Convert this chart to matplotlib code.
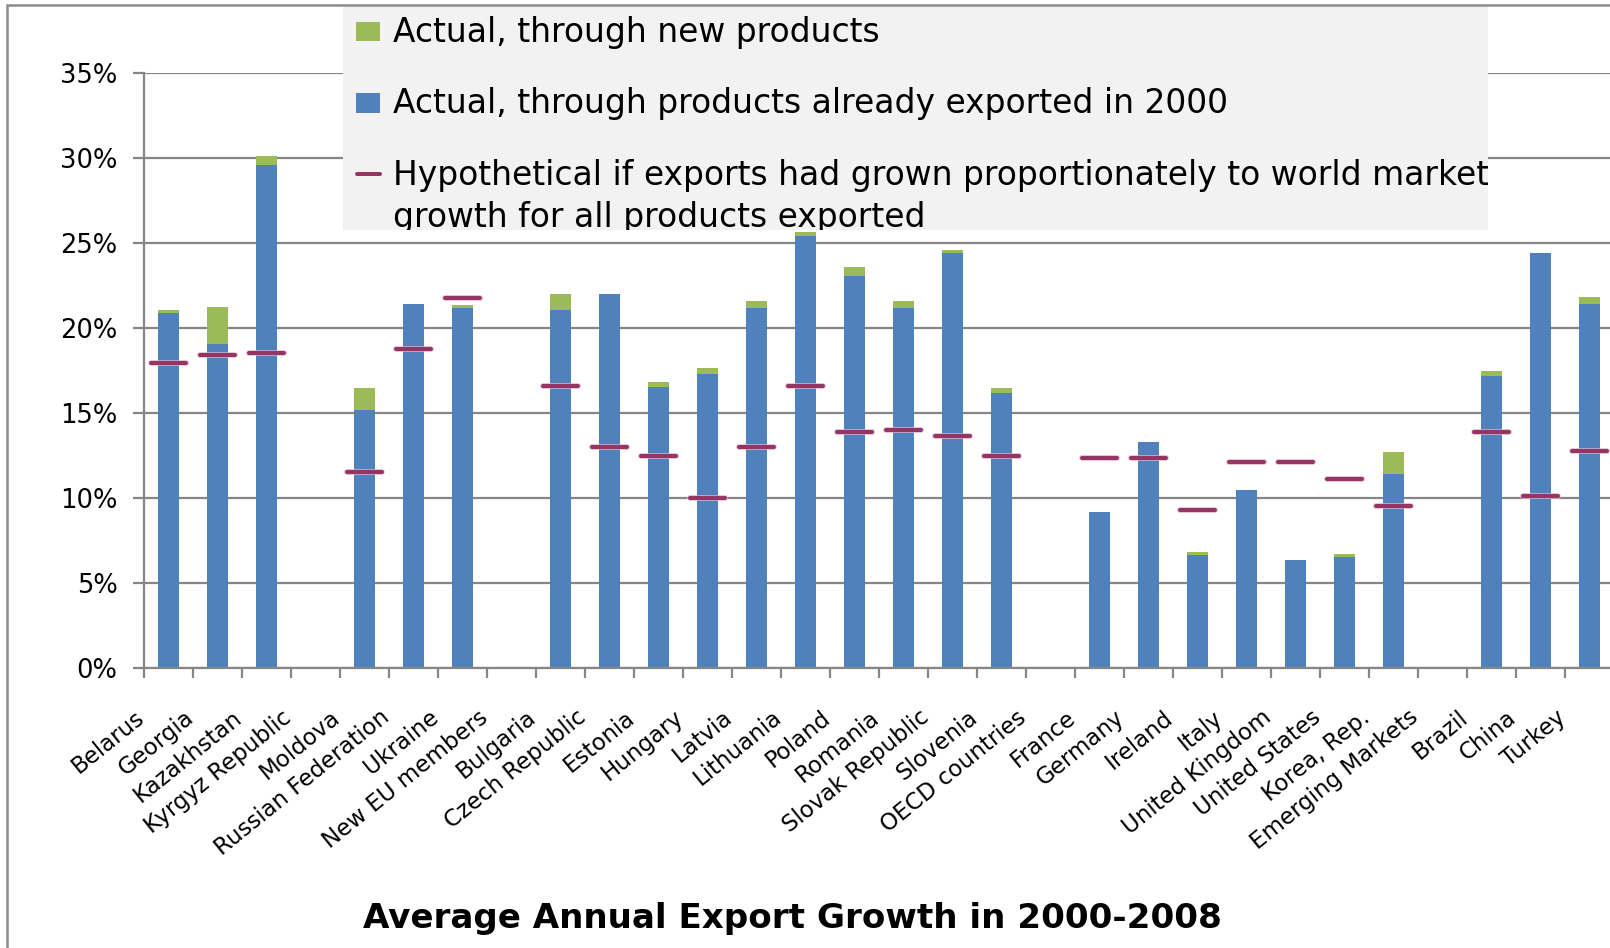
import numpy as np
import matplotlib
matplotlib.use("Agg")
import matplotlib.pyplot as plt
import matplotlib.patches as mpatches
import matplotlib.transforms as mtransforms
import matplotlib.patheffects as pe
from matplotlib.ticker import FuncFormatter

nan = np.nan

categories = ["Belarus", "Georgia", "Kazakhstan", "Kyrgyz Republic", "Moldova",
              "Russian Federation", "Ukraine", "New EU members", "Bulgaria",
              "Czech Republic", "Estonia", "Hungary", "Latvia", "Lithuania",
              "Poland", "Romania", "Slovak Republic", "Slovenia", "OECD countries",
              "France", "Germany", "Ireland", "Italy", "United Kingdom",
              "United States", "Korea, Rep.", "Emerging Markets", "Brazil",
              "China", "Turkey"]

# Actual growth through products already exported in 2000 (%)
existing_products = [20.85, 19.05, 29.6, nan, 15.15, 21.4, 21.15, nan, 21.05, 22.0,
                     16.5, 17.25, 21.15, 25.4, 23.05, 21.15, 24.4, 16.15, nan,
                     9.16, 13.25, 6.63, 10.45, 6.34, 6.51, 11.39, nan, 17.14, 24.4, 21.4]
# Actual growth through new products (%)
new_products = [0.17, 2.15, 0.5, nan, 1.3, 0.0, 0.18, nan, 0.95, 0.0,
                0.3, 0.4, 0.4, 0.25, 0.55, 0.4, 0.17, 0.3, nan,
                0.0, 0.0, 0.17, 0.0, 0.0, 0.18, 1.3, nan, 0.3, 0.0, 0.4]
# Hypothetical growth if exports grew with world market (%)
hypothetical = [17.9, 18.4, 18.5, nan, 11.5, 18.75, 21.75, nan, 16.6, 13.0,
                12.47, 10.0, 13.0, 16.6, 13.85, 14.0, 13.63, 12.47, nan,
                12.35, 12.35, 9.25, 12.12, 12.12, 11.1, 9.49, nan, 13.86, 10.12, 12.72]

y_ticks = [0, 5, 10, 15, 20, 25, 30, 35]

legend_labels = ["Actual, through new products",
                 "Actual, through products already exported in 2000",
                 "Hypothetical if exports had grown proportionately to world market",
                 "growth for all products exported"]
title_text = "Average Annual Export Growth in 2000-2008"

BLUE = "#4F81BD"
GREEN = "#9BBB59"
MAROON = "#953563"
GRAY = "#868686"

W, H = 1610, 948
fig = plt.figure(figsize=(W / 100, H / 100), dpi=100)
fig.patch.set_facecolor("white")

def fx(px):
    return px / W

def fy(py):
    return 1 - py / H

# plot area
ax_left, ax_bottom_px, ax_top_px = 144, 667.7, 72.7
slot = 49.0
ax = fig.add_axes([fx(ax_left), fy(ax_bottom_px), 30 * slot / W,
                   (ax_bottom_px - ax_top_px) / H])

x = np.arange(len(categories))
ex = np.array(existing_products, dtype=float)
nw = np.array(new_products, dtype=float)
hy = np.array(hypothetical, dtype=float)

m = ~np.isnan(ex)
ax.bar(x[m], ex[m], width=0.44, color=BLUE, zorder=2)
ax.bar(x[m], nw[m], bottom=ex[m], width=0.44, color=GREEN, zorder=2)

mh = ~np.isnan(hy)
lc = ax.hlines(hy[mh], x[mh] - 0.35, x[mh] + 0.35, colors=MAROON,
               linewidth=2.9, zorder=3)
lc.set_capstyle("round")
lc.set_path_effects([pe.Stroke(linewidth=4.2, foreground="#e3b3c9", alpha=0.8),
                     pe.Normal()])

ax.set_xlim(-0.5, len(categories) - 0.5)
ax.set_ylim(0, 35)
ax.set_yticks(y_ticks)
ax.yaxis.set_major_formatter(FuncFormatter(lambda v, p: f"{v:.0f}%"))
ax.set_axisbelow(True)
ax.yaxis.grid(True, color=GRAY, linewidth=1.6)
ax.xaxis.grid(False)

for s in ["top", "right"]:
    ax.spines[s].set_visible(False)
for s in ["left", "bottom"]:
    ax.spines[s].set_color(GRAY)
    ax.spines[s].set_linewidth(1.6)

ax.tick_params(axis="y", direction="out", length=8, width=1.6, color=GRAY,
               labelsize=18.5, pad=11, labelcolor="black")
ax.set_xticks(np.arange(len(categories) + 1) - 0.5)
ax.set_xticklabels([])
ax.tick_params(axis="x", direction="out", length=7.2, width=1.6, color=GRAY)
for lab in ax.get_yticklabels():
    lab.set_fontfamily("DejaVu Sans")

# category labels (rotated, Excel-like anchoring)
blend = mtransforms.blended_transform_factory(ax.transData, ax.transAxes)
lab_tr = mtransforms.offset_copy(blend, fig=fig, x=-34, y=-38, units="dots")
for xi, name in zip(x, categories):
    ax.text(xi, 0, name, transform=lab_tr, rotation=39, rotation_mode="anchor",
            ha="right", va="top", fontsize=16.5, family="DejaVu Sans",
            clip_on=False)

# legend box
leg_x0, leg_x1, leg_y0, leg_y1 = 343, 1488, 7, 230
leg_rect = mpatches.Rectangle((fx(leg_x0), fy(leg_y1)), fx(leg_x1 - leg_x0),
                              (leg_y1 - leg_y0) / H, transform=fig.transFigure,
                              facecolor="#F2F2F2", edgecolor="none", zorder=5)
fig.add_artist(leg_rect)

fig.add_artist(mpatches.Rectangle((fx(356), fy(40.7)), fx(24), 19 / H,
                                  transform=fig.transFigure, facecolor=GREEN,
                                  edgecolor="none", zorder=6))
fig.add_artist(mpatches.Rectangle((fx(356), fy(112.7)), fx(24), 19.5 / H,
                                  transform=fig.transFigure, facecolor=BLUE,
                                  edgecolor="none", zorder=6))
leg_line = plt.Line2D([fx(357), fx(380)], [fy(174), fy(174)],
                      transform=fig.transFigure, color=MAROON, linewidth=2.9,
                      solid_capstyle="round", zorder=6)
fig.add_artist(leg_line)

baselines = [41.7, 113, 185, 227]
leg_texts = []
for lab, by in zip(legend_labels, baselines):
    t = fig.text(fx(393), fy(by), lab, ha="left", va="baseline", fontsize=20,
                 family="DejaVu Sans", color="black", zorder=7)
    leg_texts.append(t)

title = fig.text(fx(792), fy(928), title_text, ha="center", va="baseline",
                 fontsize=22, weight="bold", family="DejaVu Sans", color="black")

# fit text sizes to the reference widths
renderer = fig.canvas.get_renderer()
bb = leg_texts[2].get_window_extent(renderer)
fs = 20 * 1091 / bb.width
for t in leg_texts:
    t.set_fontsize(fs)
bbt = title.get_window_extent(renderer)
title.set_fontsize(22 * 854 / bbt.width)

clip = mtransforms.TransformedBbox(
    mtransforms.Bbox([[fx(leg_x0), fy(leg_y1)], [fx(leg_x1), fy(leg_y0)]]),
    fig.transFigure)
for t in leg_texts:
    t.set_clip_box(clip)
    t.set_clip_on(True)

# outer chart border
fig.add_artist(mpatches.Rectangle((fx(7), -0.1), 2, fy(5) + 0.1,
                                  transform=fig.transFigure, fill=False,
                                  edgecolor="#8C8C8C", linewidth=1.8, zorder=8))

fig.savefig("out.png", dpi=100)
